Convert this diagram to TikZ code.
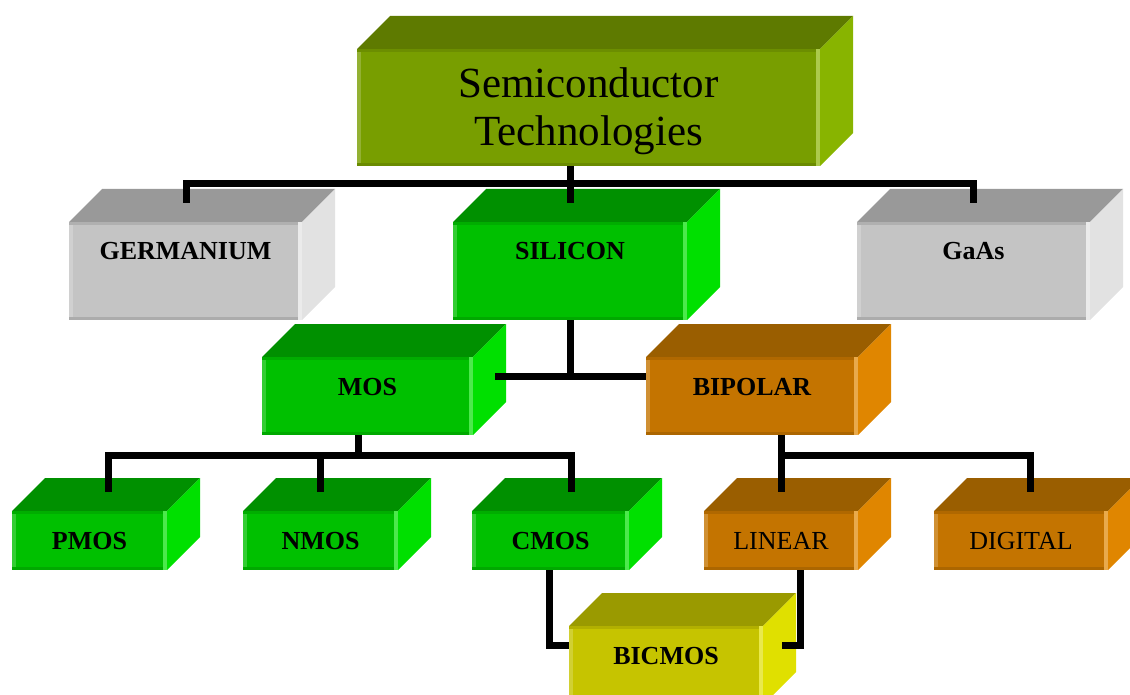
\documentclass[tikz,border=0pt]{standalone}
\usepackage{fontspec}
\setmainfont{Liberation Serif}
\usetikzlibrary{calc}

% face colours: front / top / side
\definecolor{olvF}{HTML}{789E00}\definecolor{olvT}{HTML}{5E7A00}\definecolor{olvS}{HTML}{88B400}
\definecolor{gryF}{HTML}{C4C4C4}\definecolor{gryT}{HTML}{999999}\definecolor{gryS}{HTML}{E2E2E2}
\definecolor{grnF}{HTML}{00C000}\definecolor{grnT}{HTML}{009000}\definecolor{grnS}{HTML}{00E000}
\definecolor{orgF}{HTML}{C47400}\definecolor{orgT}{HTML}{9A5E00}\definecolor{orgS}{HTML}{E08600}
\definecolor{ylwF}{HTML}{C6C400}\definecolor{ylwT}{HTML}{9A9A00}\definecolor{ylwS}{HTML}{E0E000}

% top and side faces plus bevel strips of a block whose front face is node #1
\newcommand\slab[4]{%
  \fill[#3] (#1.north west) -- ++(33,-33) -- ($(#1.north east)+(33,-33)$) -- (#1.north east) -- cycle;
  \fill[#4] (#1.north east) -- ++(33,-33) -- ($(#1.south east)+(33,-33)$) -- (#1.south east) -- cycle;
  \fill[#2!80!white] (#1.north west) rectangle ($(#1.south west)+(4,0)$);
  \fill[#2!90!black] (#1.north west) rectangle ($(#1.north east)+(0,3)$);
  \fill[#2!88!black] ($(#1.south west)+(0,-3)$) rectangle (#1.south east);
  \fill[#4!70!white] ($(#1.north east)+(-4,0)$) rectangle (#1.south east);
}

\tikzset{
  face/.style={rectangle, inner sep=0pt, outer sep=0pt},
  lbl/.style={font=\fontsize{26}{30}\selectfont\bfseries, anchor=base, inner sep=0pt},
  lblr/.style={font=\fontsize{26}{30}\selectfont, anchor=base, inner sep=0pt},
  title/.style={font=\fontsize{43}{47}\selectfont, anchor=base, inner sep=0pt},
  conn/.style={line width=7pt, black, line join=miter},
}

\begin{document}
\begin{tikzpicture}[x=1pt, y=-1pt]
\useasboundingbox (0,0) rectangle (1130,695);
\clip (0,0) rectangle (1130,695);

% front faces
\node[face, fill=olvF, minimum width=463pt, minimum height=117pt] (top) at (588.5,107.5) {};
\slab{top}{olvF}{olvT}{olvS}
\node[face, fill=gryF, minimum width=233pt, minimum height=98pt] (ger) at (185.5,271) {};
\slab{ger}{gryF}{gryT}{gryS}
\node[face, fill=grnF, minimum width=234pt, minimum height=98pt] (sil) at (570,271) {};
\slab{sil}{grnF}{grnT}{grnS}
\node[face, fill=gryF, minimum width=233pt, minimum height=98pt] (gaas) at (973.5,271) {};
\slab{gaas}{gryF}{gryT}{gryS}
\node[face, fill=grnF, minimum width=211pt, minimum height=78pt] (mos) at (367.5,396) {};
\slab{mos}{grnF}{grnT}{grnS}
\node[face, fill=orgF, minimum width=212pt, minimum height=78pt] (bip) at (752,396) {};
\slab{bip}{orgF}{orgT}{orgS}
\node[face, fill=grnF, minimum width=155pt, minimum height=59pt] (pmos) at (89.5,540.5) {};
\slab{pmos}{grnF}{grnT}{grnS}
\node[face, fill=grnF, minimum width=155pt, minimum height=59pt] (nmos) at (320.5,540.5) {};
\slab{nmos}{grnF}{grnT}{grnS}
\node[face, fill=grnF, minimum width=157pt, minimum height=59pt] (cmos) at (550.5,540.5) {};
\slab{cmos}{grnF}{grnT}{grnS}
\node[face, fill=orgF, minimum width=154pt, minimum height=59pt] (lin) at (781,540.5) {};
\slab{lin}{orgF}{orgT}{orgS}
\node[face, fill=orgF, minimum width=174pt, minimum height=59pt] (dig) at (1021,540.5) {};
\slab{dig}{orgF}{orgT}{orgS}
\node[face, fill=ylwF, minimum width=194pt, minimum height=79pt] (bic) at (666,665.5) {};
\slab{bic}{ylwF}{ylwT}{ylwS}

% labels
\node[title] (topt1) at ($(top.north)+(0,49)$) {Semiconductor};
\node[title] (topt2) at ($(top.north)+(0,97)$) {Technologies};
\node[lbl] (gert) at ($(ger.north)+(0,38)$) {GERMANIUM};
\node[lbl] (silt) at ($(sil.north)+(0,38)$) {SILICON};
\node[lbl] (gaast) at ($(gaas.north)+(0,38)$) {GaAs};
\node[lbl] (most) at ($(mos.north)+(0,38)$) {MOS};
\node[lbl] (bipt) at ($(bip.north)+(0,38)$) {BIPOLAR};
\node[lbl] (pmost) at ($(pmos.north)+(0,38)$) {PMOS};
\node[lbl] (nmost) at ($(nmos.north)+(0,38)$) {NMOS};
\node[lbl] (cmost) at ($(cmos.north)+(0,38)$) {CMOS};
\node[lblr] (lint) at ($(lin.north)+(0,38)$) {LINEAR};
\node[lblr] (digt) at ($(dig.north)+(0,38)$) {DIGITAL};
\node[lbl] (bict) at ($(bic.north)+(0,38)$) {BICMOS};

% connectors
\coordinate (topbus) at (570,184);
\draw[conn] (sil.north |- top.south) -- ($(sil.north)+(0,-19)$);
\draw[conn] ($(ger.north)+(0.5,-19)$) |- (topbus) -| ($(gaas.north)+(-0.5,-19)$);

\coordinate (silbus) at (570,376);
\draw[conn] (sil.south) -- (silbus);
\draw[conn] ($(mos.east |- silbus)+(22,0)$) -- (bip.west |- silbus);

\coordinate (mosbus) at (358,455);
\draw[conn] ($(mos.south)+(-9.5,0)$) -- (mosbus);
\draw[conn] ($(pmos.north)+(18.5,-19)$) |- (mosbus) -| ($(cmos.north)+(20.5,-19)$);
\draw[conn] ($(nmos.north)+(0,-19)$) -- (nmos.north |- mosbus);

\coordinate (bipbus) at (781,455);
\draw[conn] (lin.north |- bip.south) -- ($(lin.north)+(0,-19)$);
\draw[conn] (bipbus) -| ($(dig.north)+(9,-19)$);

\draw[conn] ($(cmos.south)+(-1.5,0)$) |- ($(bic.north west)+(0,19)$);
\draw[conn] ($(lin.south)+(19,0)$) |- ($(bic.north east)+(19,19)$);
\end{tikzpicture}
\end{document}
